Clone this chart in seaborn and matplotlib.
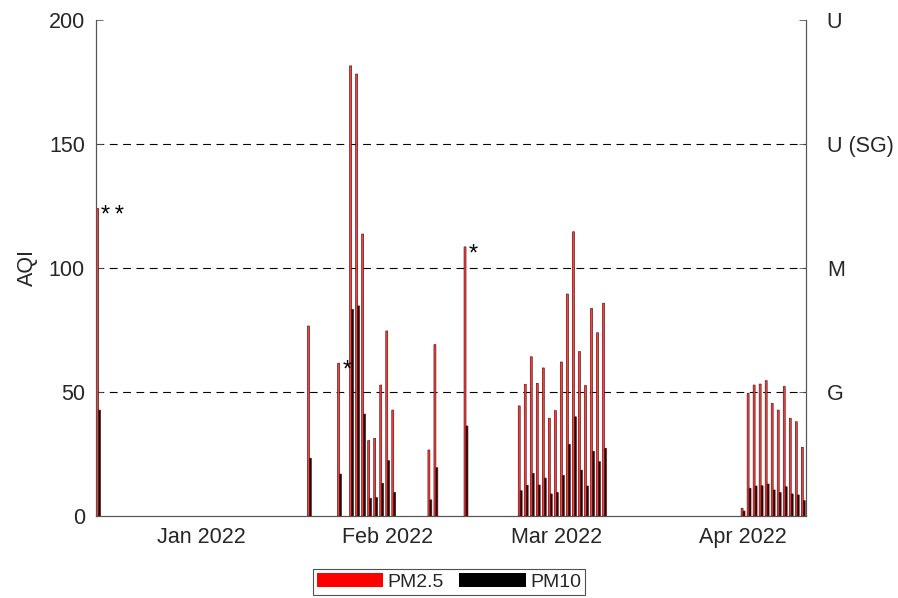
import numpy as np
import pandas as pd
import seaborn as sns
import matplotlib
matplotlib.use("Agg")
import matplotlib.pyplot as plt
import matplotlib.dates as mdates
from matplotlib.patches import Patch

# Daily AQI values
dates = [
    "2021-12-15",
    "2022-01-19", "2022-01-24", "2022-01-26", "2022-01-27", "2022-01-28",
    "2022-01-29", "2022-01-30", "2022-01-31", "2022-02-01", "2022-02-02",
    "2022-02-08", "2022-02-09", "2022-02-14",
    "2022-02-23", "2022-02-24", "2022-02-25", "2022-02-26", "2022-02-27",
    "2022-02-28", "2022-03-01", "2022-03-02", "2022-03-03", "2022-03-04",
    "2022-03-05", "2022-03-06", "2022-03-07", "2022-03-08", "2022-03-09",
    "2022-04-01", "2022-04-02", "2022-04-03", "2022-04-04", "2022-04-05",
    "2022-04-06", "2022-04-07", "2022-04-08", "2022-04-09", "2022-04-10",
    "2022-04-11",
]
pm25 = [
    124.0,
    76.6, 61.6, 181.5, 178.2, 113.7, 30.4, 31.3, 52.8, 74.6, 42.7,
    26.6, 69.1, 108.5,
    44.4, 53.1, 64.2, 53.5, 59.7, 39.4, 42.5, 62.1, 89.5, 114.6,
    66.3, 52.6, 83.7, 73.9, 85.8,
    3.1, 49.5, 52.8, 53.2, 54.6, 45.4, 42.7, 52.2, 39.4, 38.0, 27.7,
]
pm10 = [
    42.7,
    23.3, 16.9, 83.3, 84.7, 41.1, 7.1, 7.4, 13.2, 22.3, 9.5,
    6.5, 19.5, 36.3,
    10.2, 12.4, 17.2, 12.5, 15.3, 8.9, 9.5, 16.4, 28.9, 40.0,
    18.5, 12.1, 26.1, 21.9, 27.3,
    2.0, 11.2, 12.1, 12.2, 12.9, 10.5, 9.5, 11.8, 8.9, 8.5, 6.2,
]

# flagged days
star_dates = ["2021-12-15", "2022-01-24", "2022-02-14"]
star_marks = ["*\u2009*", "*", "*"]

# AQI category levels for the right axis
cat_levels = [50, 100, 150, 200]
cat_labels = ["G", "M", "U (SG)", "U"]

t = mdates.date2num(pd.to_datetime(dates))
n = len(dates)
df = pd.DataFrame({
    "t": np.concatenate([t, t]),
    "AQI": pm25 + pm10,
    "pollutant": ["PM2.5"] * n + ["PM10"] * n,
})

sns.set_style("white")
plt.rcParams["font.family"] = ["Liberation Sans", "DejaVu Sans"]
txt = "#262626"

fig = plt.figure(figsize=(8.98, 5.98), dpi=100)
ax = fig.add_axes([96 / 898, 82 / 598, 710 / 898, 496 / 598])

sns.barplot(data=df, x="t", y="AQI", hue="pollutant", hue_order=["PM2.5", "PM10"],
            palette={"PM2.5": "#ff4040", "PM10": "#1a0000"}, native_scale=True,
            dodge=True, width=0.64, saturation=1, errorbar=None,
            edgecolor="#5e1212", linewidth=0.5, legend=False, snap=False, ax=ax)

for lv in cat_levels[:-1]:
    ax.axhline(lv, color="black", linestyle=(0, (7, 5)), linewidth=0.8, zorder=0)

# asterisks next to flagged days
for d, m in zip(star_dates, star_marks):
    i = dates.index(d)
    ax.annotate(m, xy=(t[i], pm25[i]), xytext=(2, -9.5), textcoords="offset points",
                ha="left", va="baseline", fontsize=17, color="black")

ax.set_ylim(0, 200)
ax.set_yticks([0, 50, 100, 150, 200])
ax.set_xlim(t[0] - 0.43, t[-1] + 0.45)
ax.xaxis.set_major_locator(mdates.MonthLocator())
ax.xaxis.set_major_formatter(mdates.DateFormatter("%b %Y"))
ax.set_xlabel("")
ax.set_ylabel("AQI", fontsize=15.5, color=txt, labelpad=8)
ax.tick_params(axis="both", direction="in", length=5, width=0.6, color="#555555",
               labelsize=15.5, labelcolor=txt)
ax.tick_params(axis="x", pad=8)
ax.tick_params(axis="y", pad=8)

ax2 = ax.twinx()
ax2.set_ylim(0, 200)
ax2.set_yticks(cat_levels)
ax2.set_yticklabels(cat_labels)
ax2.tick_params(axis="y", direction="in", length=5, width=0.6, color="#555555",
                labelsize=15.5, labelcolor=txt, pad=15)

for a in (ax, ax2):
    for side in ("left", "right", "bottom"):
        a.spines[side].set_color("#555555")
        a.spines[side].set_linewidth(0.8)
    a.spines["top"].set_visible(False)

handles = [Patch(facecolor="#ff0000", edgecolor="none"),
           Patch(facecolor="#000000", edgecolor="none")]
leg = fig.legend(handles, ["PM2.5", "PM10"], loc="center", bbox_to_anchor=(449 / 898, 1 - 582 / 598),
                 ncol=2, fontsize=14, frameon=True, fancybox=False, edgecolor="#262626",
                 handlelength=3.4, handleheight=0.7, handletextpad=0.25, columnspacing=0.8,
                 borderpad=0.2, borderaxespad=0)
leg.get_frame().set_linewidth(0.8)
for tx in leg.get_texts():
    tx.set_color(txt)

fig.savefig("out.png", dpi=100)
